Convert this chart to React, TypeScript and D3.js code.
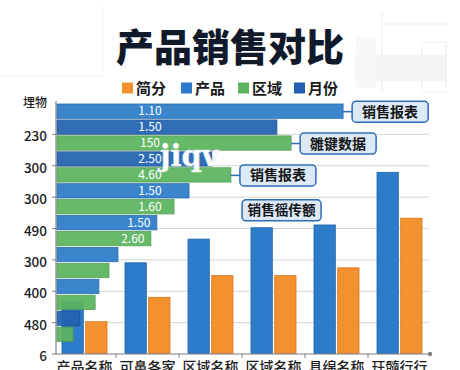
import React from "react";
import * as d3 from "d3";

const title = "产品销售对比";
const legendNames = ["简分", "产品", "区域", "月份"];
const yLabels = ["埋物", "230", "300", "300", "490", "300", "400", "480", "6"];
const categories = ["产品名称", "可鼻各家", "区域名称", "区域名称", "具绵名称", "玨髓行行"];
const productValues = [20.8, 36.2, 45.6, 50.1, 51.2, 72.1];
const jianfenValues = [12.8, 22.5, 31.1, 31.1, 34.2, 53.9];
const hbarValues = [76.5, 58.8, 62.6, 41.4, 46.5, 35.3, 31.3, 26.7, 25.1, 16.3, 13.9, 11.2, 10.2, 6.1, 4.3];
const hbarSeries = ["产品", "月份", "区域", "月份", "区域", "产品", "区域", "产品", "区域", "产品", "区域", "产品", "区域", "月份", "区域"];
const hbarLabels = ["1.10", "1.50", "150", "2.50", "4.60", "1.50", "1.60", "1.50", "2.60"];
const calloutBars = [0, 2, 4, 6];
const calloutTexts = ["销售报表", "雛键数据", "销售报表", "销售徭传额"];
const watermark = "jiqv";

const colors: Record<string, string> = {
  简分: "#f39131",
  产品: "#2d7cca",
  区域: "#5cb45f",
  月份: "#2163b0",
};
const strokeColors: Record<string, string> = {
  简分: "#d9771a",
  产品: "#1f64aa",
  区域: "#4a9c4d",
  月份: "#184f93",
};

const FONT = "'Noto Sans CJK SC', 'Noto Sans', sans-serif";

export default function App() {
  const W = 460, H = 370;
  const x0 = 56, xEnd = 429, yTop = 103, yBase = 354;

  const yPts = d3.scalePoint<string>().domain(yLabels.map((_, i) => String(i))).range([yTop, yBase]);
  const xBand = d3.scaleBand<string>().domain(categories.map((_, i) => String(i))).range([53, 431]);
  const inner = d3.scaleBand<string>().domain(["产品", "简分"]).range([9, 54]).paddingInner(0.1);
  const yV = d3.scaleLinear().domain([0, 100]).range([yBase, yTop - 1]);
  const xH = d3.scaleLinear().domain([0, 100]).range([57, 431]);
  const yH = d3.scaleBand<string>().domain(hbarValues.map((_, i) => String(i))).range([104, 341.4]).paddingInner(0.1).paddingOuter(0);

  return (
    <svg width={W} height={H} style={{ position: "absolute", left: 0, top: 0, background: "#fff" }} fontFamily={FONT}>
      <rect x={0} y={0} width={W} height={H} fill="#ffffff" />
      {/* faint background decorations */}
      <g opacity={0.55}>
        <line x1={0} x2={104} y1={76} y2={76} stroke="#e6e8eb" />
        <line x1={103} x2={103} y1={5} y2={76} stroke="#eceef0" />
        <line x1={382} x2={382} y1={12} y2={92} stroke="#dfe2e6" />
        <line x1={382} x2={448} y1={24} y2={24} stroke="#dfe2e6" />
        <rect x={355} y={55} width={92} height={26} fill="#e9ecf0" />
        <rect x={422} y={42} width={24} height={50} fill="none" stroke="#e2e5e9" />
        <rect x={356} y={38} width={20} height={50} fill="#f0f2f4" />
      </g>

      {/* title */}
      <text x={230} y={60.5} textAnchor="middle" fontSize={38} fontWeight={900} fill="#111a2b">{title}</text>

      {/* legend */}
      {legendNames.map((n, i) => {
        const lx = [122, 181, 238, 294][i];
        return (
          <g key={n + i}>
            <rect x={lx} y={82.5} width={11} height={11} fill={colors[n]} />
            <text x={lx + 14} y={94} fontSize={15} fontWeight={700} fill="#1a1a1a">{n}</text>
          </g>
        );
      })}

      {/* gridlines */}
      {yLabels.map((_, i) => (i === 0 || i === yLabels.length - 1 ? null : (
        <line key={"g" + i} x1={x0} x2={xEnd} y1={yPts(String(i))} y2={yPts(String(i))} stroke="#d3d5d8" strokeWidth={1} />
      )))}

      {/* vertical bars */}
      {categories.map((c, i) => {
        const bx = xBand(String(i))!;
        return (
          <g key={"v" + i}>
            <rect x={bx + inner("产品")!} y={yV(productValues[i])} width={inner.bandwidth()} height={yBase - yV(productValues[i]) - 0.5}
              fill={colors["产品"]} stroke={strokeColors["产品"]} strokeWidth={0.8} />
            <rect x={bx + inner("简分")!} y={yV(jianfenValues[i])} width={inner.bandwidth()} height={yBase - yV(jianfenValues[i]) - 0.5}
              fill={colors["简分"]} stroke={strokeColors["简分"]} strokeWidth={0.8} />
          </g>
        );
      })}

      {/* horizontal bars */}
      {hbarValues.map((v, i) => (
        <rect key={"h" + i} x={57} y={yH(String(i))} width={xH(v) - 57} height={yH.bandwidth()}
          fill={colors[hbarSeries[i]]} stroke={strokeColors[hbarSeries[i]]} strokeWidth={0.8} opacity={0.93} />
      ))}
      {hbarLabels.map((l, i) => {
        const end = xH(hbarValues[i]);
        const lx = Math.min(150, end - 18);
        return (
          <text key={"hl" + i} x={lx} y={yH(String(i))! + yH.bandwidth() / 2 + 4.2} textAnchor="middle" fontSize={12} fill="#ffffff">{l}</text>
        );
      })}

      {/* watermark */}
      <text x={160} y={166} fontFamily="'DejaVu Serif', serif" fontSize={29} fontWeight={700} fill="#ffffff" stroke="#dfe8f4" strokeWidth={0.5}>{watermark}</text>

      {/* callouts */}
      {calloutBars.map((b, i) => {
        const t = calloutTexts[i];
        const end = xH(hbarValues[b]);
        const detached = i === calloutBars.length - 1;
        const bx = detached ? end + 68 : end + 9;
        const cy = yH(String(b))! + yH.bandwidth() / 2 + (detached ? 3.5 : 0.5);
        const fs = t.length > 4 ? 13.6 : 14;
        const w = t.length > 4 ? 79 : 76;
        return (
          <g key={"c" + i}>
            {!detached && <line x1={end} x2={bx} y1={cy} y2={cy} stroke="#2c6db5" strokeWidth={1.5} />}
            <rect x={bx} y={cy - 10.5} width={w} height={21} rx={4} fill="#dde9f7" stroke="#2c6db5" strokeWidth={1.5} />
            <text x={bx + w / 2} y={cy + 5} textAnchor="middle" fontSize={fs} fontWeight={600} fill="#141414">{t}</text>
          </g>
        );
      })}

      {/* y axis */}
      <line x1={x0} x2={x0} y1={101} y2={yBase} stroke="#7d7f83" strokeWidth={1.2} />
      {yLabels.map((l, i) => {
        const yy = yPts(String(i))!;
        return (
          <g key={"y" + i}>
            {i > 0 && <line x1={x0 - 4} x2={x0} y1={yy} y2={yy} stroke="#7d7f83" />}
            <text x={47} y={yy + (i === 0 ? 4 : 7)} textAnchor="end" fontSize={i === 0 ? 12 : 13.5} fontWeight={500} fill="#1c1c1c">{l}</text>
          </g>
        );
      })}

      {/* x axis */}
      <line x1={x0} x2={xEnd} y1={yBase} y2={yBase} stroke="#7d7f83" strokeWidth={1.2} />
      <circle cx={xEnd + 1} cy={yBase} r={2.2} fill="#7d7f83" />
      {categories.map((c, i) => {
        const bx = xBand(String(i))!;
        return (
          <g key={"x" + i}>
            {i > 0 && <line x1={bx} x2={bx} y1={yBase} y2={yBase + 4} stroke="#7d7f83" />}
            <text x={bx + xBand.bandwidth() / 2} y={372} textAnchor="middle" fontSize={14} fontWeight={500} fill="#1c1c1c">{c}</text>
          </g>
        );
      })}
    </svg>
  );
}
